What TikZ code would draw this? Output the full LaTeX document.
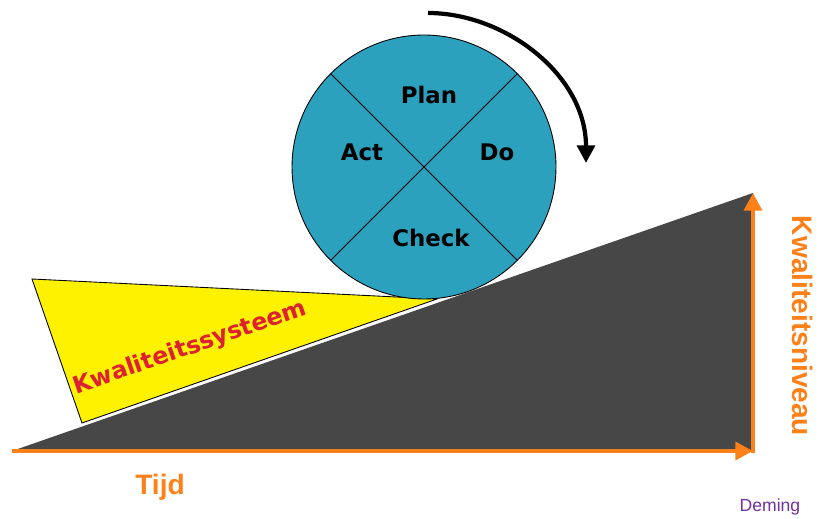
\documentclass[tikz,border=0pt]{standalone}
\usepackage{fontspec}
\setmainfont{Liberation Sans}
\newfontfamily\dejavu{DejaVu Sans}
\usetikzlibrary{arrows.meta}
\definecolor{pdcablue}{RGB}{44,161,190}
\definecolor{slopegray}{RGB}{71,71,71}
\definecolor{axisorange}{RGB}{253,128,25}
\definecolor{systemred}{RGB}{222,33,50}
\definecolor{demingpurple}{RGB}{112,48,160}

\begin{document}
\begin{tikzpicture}[x=0.02cm, y=-0.02cm,
  phase/.style={font=\dejavu\bfseries\fontsize{13}{15}\selectfont, text=black},
  axis/.style={axisorange, line width=2.8pt, -{Triangle[length=10pt, width=10pt]}},
  axislabel/.style={font=\bfseries\fontsize{16}{18}\selectfont, text=axisorange}]
  \useasboundingbox (0,0) rectangle (818,519);

  % Corner points of the slope
  \coordinate (origin) at (12,451);
  \coordinate (timeend) at (753,451);
  \coordinate (leveltop) at (753,193);

  % Slope - drawn first
  \fill[slopegray] (origin) -- (leveltop) -- (timeend) -- cycle;

  % Wedge holding the wheel
  \draw[fill=yellow, line width=0.5pt] (32,279) -- (437,299) -- (82,423) -- cycle;
  \node[font=\dejavu\bfseries\fontsize{13.5}{15}\selectfont, text=systemred, rotate=19] (system) at (190,348) {Kwaliteitssysteem};

  % PDCA wheel
  \node[draw, circle, fill=pdcablue, line width=0.5pt, minimum size=5.28cm, inner sep=0pt, outer sep=0pt] (pdca) at (424,167) {};
  \draw[line width=0.5pt] (pdca.45) -- (pdca.225);
  \draw[line width=0.5pt] (pdca.135) -- (pdca.-45);
  \node[phase] (plan) at (429,95) {Plan};
  \node[phase] (act) at (362,152) {Act};
  \node[phase] (do) at (497,152) {Do};
  \node[phase] (check) at (431,238) {Check};

  % Turning direction
  \coordinate (turnstart) at (428,13);
  \coordinate (turnend) at (586,163);
  \draw[line width=2.4pt, -{Triangle[length=10pt, width=10pt]}] (turnstart) .. controls (505,13) and (586,75) .. (turnend);

  % Axes
  \draw[axis] (origin) -- (timeend);
  \draw[axis] ([yshift=-1.4pt]timeend) -- (leveltop);

  % Labels
  \node[axislabel, anchor=base] (tijd) at (160,495) {Tijd};
  \node[axislabel, rotate=-90] (niveau) at (803,326) {Kwaliteitsniveau};
  \node[font=\fontsize{10}{12}\selectfont, text=demingpurple] (deming) at (770,507) {Deming};
\end{tikzpicture}
\end{document}
